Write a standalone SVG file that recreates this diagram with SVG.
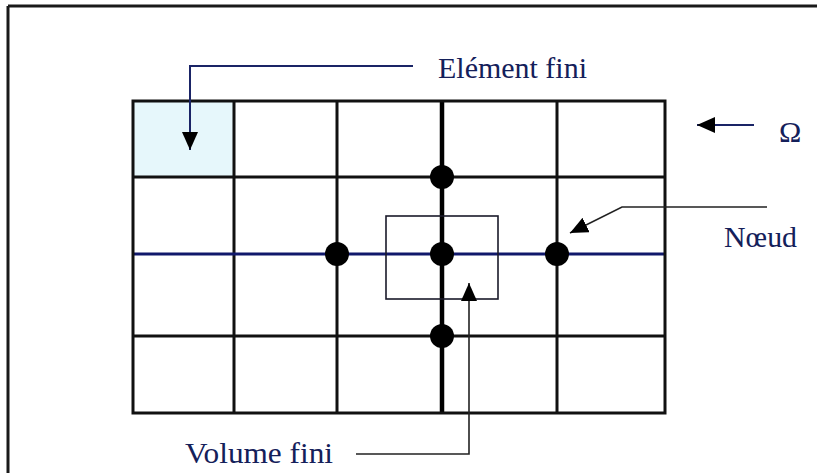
<svg xmlns="http://www.w3.org/2000/svg" width="817" height="473" viewBox="0 0 817 473">
<style>
.grid{stroke:#111;stroke-width:3;fill:none}
.lead{stroke:#1a2466;stroke-width:2;fill:none}
.thin{stroke:#222;stroke-width:1.6;fill:none}
.lbl{font-family:'Liberation Serif','DejaVu Serif',serif;font-size:30px;fill:#14205a}
.node{fill:#000}
</style>
<defs>
<marker id="ah" viewBox="0 0 18 16" refX="18" refY="8" markerWidth="18" markerHeight="16" markerUnits="userSpaceOnUse" orient="auto">
<path d="M0,0 L18,8 L0,16 Z" fill="#000"/>
</marker>
</defs>
<rect width="817" height="473" fill="#fff"/>
<g id="frame">
<path d="M8,6 H817 M8,6 V473" stroke="#1a1a1a" stroke-width="3" fill="none"/>
</g>
<g id="element-fini-cell">
<rect x="134" y="102" width="100" height="75" fill="#e6f7fb"/>
</g>
<g id="grid">
<path class="grid" d="M234,101 V413 M337,101 V413 M557,101 V413 M133,177 H665 M133,336 H665"/>
<path d="M442,101 V413" stroke="#000" stroke-width="4.5"/>
<path d="M133,254 H665" stroke="#10186b" stroke-width="3"/>
<rect class="grid" x="133" y="101" width="532" height="312"/>
</g>
<g id="volume-fini-box">
<rect x="386" y="216" width="112" height="83" fill="none" stroke="#1a1a2a" stroke-width="1.6"/>
</g>
<g id="nodes">
<circle class="node" cx="442" cy="177" r="12"/>
<circle class="node" cx="337" cy="254" r="12"/>
<circle class="node" cx="442" cy="254" r="12"/>
<circle class="node" cx="557" cy="254" r="12"/>
<circle class="node" cx="442" cy="336" r="12"/>
</g>
<g id="connectors">
<path class="lead" d="M413,66 H190 V150" marker-end="url(#ah)"/>
<path class="lead" d="M754,125 H697" marker-end="url(#ah)"/>
<path class="thin" d="M767,207 H622 L570,233" marker-end="url(#ah)"/>
<path class="thin" d="M356,454 H469 V283" marker-end="url(#ah)"/>
</g>
<g id="labels">
<text class="lbl" x="438" y="78" textLength="149" lengthAdjust="spacingAndGlyphs">Elément fini</text>
<text class="lbl" x="779" y="142">Ω</text>
<text class="lbl" x="724" y="247" textLength="73" lengthAdjust="spacingAndGlyphs">Nœud</text>
<text class="lbl" x="185" y="463" textLength="148" lengthAdjust="spacingAndGlyphs">Volume fini</text>
</g>
</svg>
